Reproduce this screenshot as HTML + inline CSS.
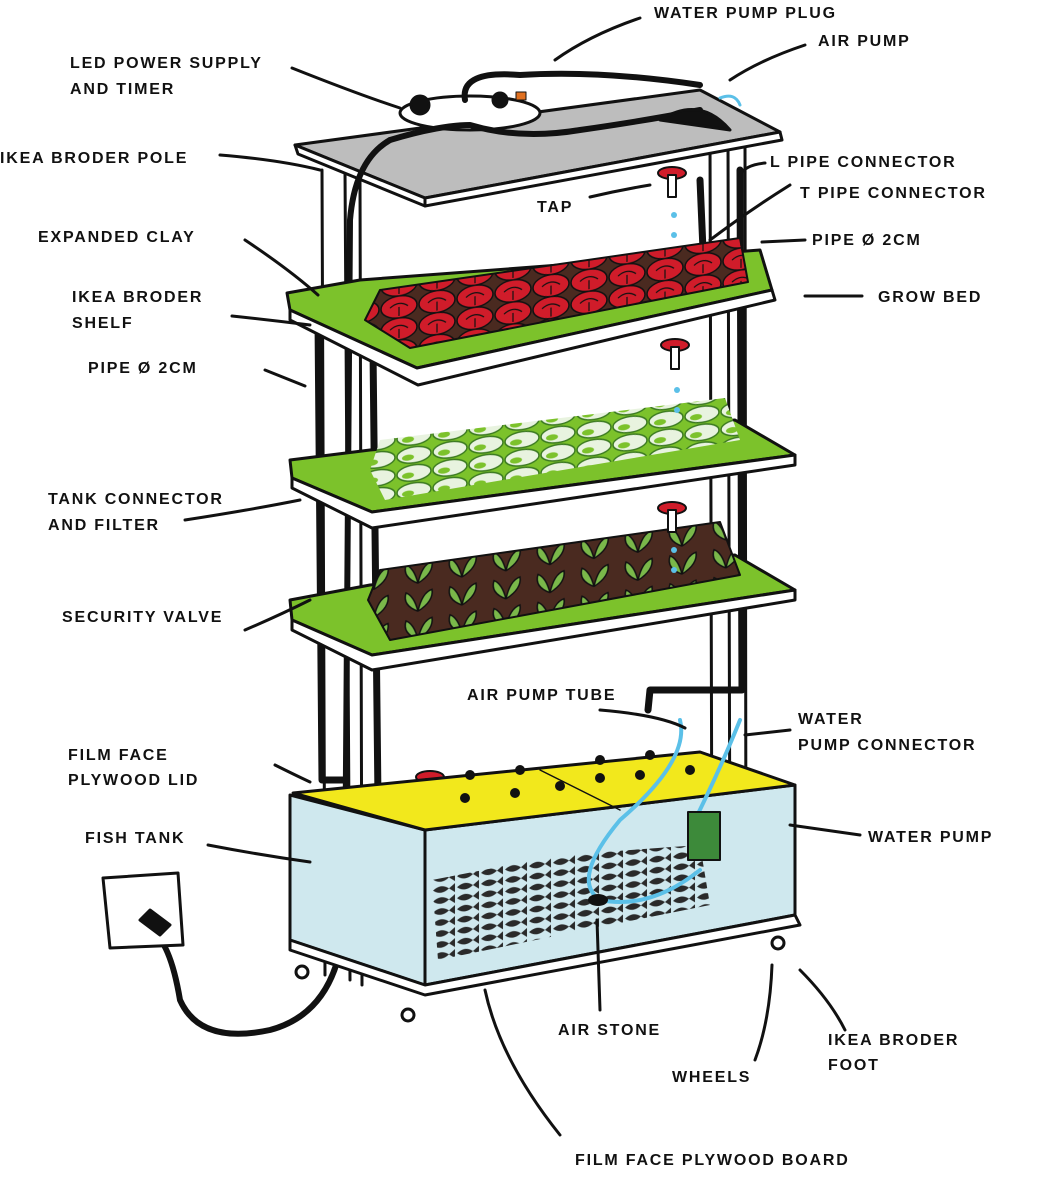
<!DOCTYPE html>
<html><head><meta charset="utf-8"><style>
html,body{margin:0;padding:0;background:#fff;width:1050px;height:1200px;overflow:hidden}
svg text{font-family:"Liberation Sans",sans-serif;font-size:16px;font-weight:bold;letter-spacing:1.8px;fill:#111}
</style></head><body>
<svg width="1050" height="1200" viewBox="0 0 1050 1200" xmlns="http://www.w3.org/2000/svg">
<defs>
<pattern id="red" width="38" height="22" patternUnits="userSpaceOnUse" patternTransform="skewY(-8)">
<rect width="38" height="22" fill="#4a2a20"/>
<ellipse cx="19" cy="11" rx="18" ry="11" fill="#d01c2a" stroke="#111" stroke-width="1.5"/>
<path d="M10 11 Q19 4 28 11 M19 11 L19 20" stroke="#111" stroke-width="1.2" fill="none"/>
</pattern>
<pattern id="white" width="36" height="18" patternUnits="userSpaceOnUse" patternTransform="skewY(-8)">
<rect width="36" height="18" fill="#7cc22b"/>
<ellipse cx="18" cy="9" rx="17" ry="8" fill="#e8f3df" stroke="#3b7a20" stroke-width="1.5"/>
<ellipse cx="12" cy="11" rx="6" ry="3" fill="#7cc22b"/>
</pattern>
<pattern id="green" width="44" height="28" patternUnits="userSpaceOnUse" patternTransform="skewY(-8)">
<rect width="44" height="28" fill="#4a2a20"/>
<path d="M22 26 Q6 18 10 6 Q18 10 22 26 Q26 8 36 6 Q38 18 22 26" fill="#7ab84a" stroke="#111" stroke-width="1.5"/>
</pattern>
<pattern id="fish" width="24" height="11" patternUnits="userSpaceOnUse" patternTransform="skewY(-8)">
<path d="M1 5.5 Q9 -1 17 5.5 L23 1 L23 10 L17 5.5 Q9 12 1 5.5" fill="#2a2a2a"/>
</pattern>
</defs>
<g stroke="#111" stroke-width="3" fill="none" stroke-linecap="round" stroke-linejoin="round">
<path d="M322 170 L325 975 M345 170 L350 980 M360 180 L362 985"/>
<path d="M710 140 L712 910 M728 140 L730 915 M745 140 L746 920"/>
<path d="M318 320 L322 780 L345 780" stroke-width="7"/>
<path d="M373 350 L378 800 L415 800" stroke-width="7"/>
<path d="M700 180 L703 250 M740 170 L742 690 L650 690 L648 710" stroke-width="7"/>
<polygon points="295,145 700,90 780,132 425,198" fill="#bdbdbd"/>
<polygon points="295,145 425,198 425,206 298,154" fill="#fff"/>
<polygon points="425,198 780,132 782,140 425,206" fill="#fff"/>
<ellipse cx="470" cy="113" rx="70" ry="17" fill="#fff"/>
<circle cx="420" cy="105" r="9" fill="#111"/><circle cx="500" cy="100" r="7" fill="#111"/>
<rect x="516" y="92" width="10" height="8" fill="#e07020" stroke-width="1"/>
<path d="M390 140 Q440 125 470 125 Q520 140 580 130 Q650 120 700 110" stroke-width="6"/>
<path d="M465 100 Q460 70 520 75 Q600 70 700 85" stroke-width="6"/>
<path d="M660 120 Q700 95 730 130 Z" fill="#111"/>
<path d="M720 98 Q735 92 740 105" stroke="#5bc0e8"/>
<path d="M390 140 Q355 160 350 220 L345 900 Q345 1010 270 1030 Q200 1045 180 1000 Q170 940 150 930" stroke-width="6"/>
<polygon points="287,293 360,280 760,250 772,290 417,368 290,310" fill="#7cc22b"/>
<polygon points="290,310 417,368 772,290 775,300 418,385 290,320" fill="#fff"/>
<polygon points="365,320 380,290 740,238 748,282 410,348" fill="url(#red)" stroke-width="2"/>
<polygon points="290,460 370,450 735,420 795,455 372,512 292,478" fill="#7cc22b"/>
<polygon points="292,478 372,512 795,455 795,465 372,528 292,488" fill="#fff"/>
<polygon points="370,470 380,440 725,398 740,440 385,500" fill="url(#white)" stroke-width="0"/>
<polygon points="290,600 370,585 735,555 795,590 372,655 292,620" fill="#7cc22b"/>
<polygon points="292,620 372,655 795,590 795,600 372,670 292,630" fill="#fff"/>
<polygon points="368,600 380,570 720,522 740,575 390,640" fill="url(#green)" stroke-width="2"/>
<g fill="#d01c2a" stroke-width="2">
<ellipse cx="672" cy="173" rx="14" ry="6"/><rect x="668" y="175" width="8" height="22" fill="#fff"/>
<ellipse cx="675" cy="345" rx="14" ry="6"/><rect x="671" y="347" width="8" height="22" fill="#fff"/>
<ellipse cx="672" cy="508" rx="14" ry="6"/><rect x="668" y="510" width="8" height="22" fill="#fff"/>
<ellipse cx="430" cy="777" rx="14" ry="6"/><rect x="426" y="779" width="8" height="22" fill="#fff"/>
</g>
<g fill="#5bc0e8" stroke="none"><circle cx="674" cy="215" r="3"/><circle cx="674" cy="235" r="3"/><circle cx="677" cy="390" r="3"/><circle cx="677" cy="410" r="3"/><circle cx="674" cy="550" r="3"/><circle cx="674" cy="570" r="3"/></g>
<polygon points="290,795 425,830 425,985 290,940" fill="#cfe8ee"/>
<polygon points="425,830 795,785 795,915 425,985" fill="#cfe8ee"/>
<polygon points="293,793 700,752 795,785 425,830" fill="#f2e81c"/>
<path d="M540 770 L620 810" stroke-width="1.5"/>
<g fill="#111" stroke="none">
<circle cx="465" cy="798" r="5"/><circle cx="515" cy="793" r="5"/><circle cx="560" cy="786" r="5"/><circle cx="470" cy="775" r="5"/><circle cx="520" cy="770" r="5"/><circle cx="600" cy="778" r="5"/><circle cx="640" cy="775" r="5"/><circle cx="600" cy="760" r="5"/><circle cx="650" cy="755" r="5"/><circle cx="690" cy="770" r="5"/>
</g>
<polygon points="432,880 560,855 700,845 710,905 560,935 438,960" fill="url(#fish)" stroke="none"/>
<path d="M680 720 Q690 760 620 820 Q570 880 600 900 Q650 910 700 870 M740 720 Q720 770 690 830" stroke="#5bc0e8" stroke-width="4"/>
<ellipse cx="598" cy="900" rx="10" ry="6" fill="#111" stroke="none"/>
<rect x="688" y="812" width="32" height="48" fill="#3d8a3a" stroke-width="2"/>
<polygon points="425,985 795,915 800,925 425,995 290,950 290,940" fill="#fff"/>
<circle cx="302" cy="972" r="6"/><circle cx="408" cy="1015" r="6"/><circle cx="778" cy="943" r="6"/>
<path d="M103 878 L178 873 L183 945 L110 948 Z" fill="#fff"/>
<path d="M150 910 l20 15 l-10 10 l-20 -15 z" fill="#111"/>
<path d="M292 68 Q360 95 400 108"/><path d="M640 18 Q590 35 555 60"/><path d="M805 45 Q760 60 730 80"/>
<path d="M220 155 Q280 160 320 170"/><path d="M245 240 Q290 270 318 295"/><path d="M232 316 Q270 320 310 325"/>
<path d="M265 370 Q290 380 305 386"/><path d="M185 520 Q250 510 300 500"/><path d="M245 630 Q280 615 310 600"/>
<path d="M275 765 Q295 775 310 782"/><path d="M208 845 Q260 855 310 862"/>
<path d="M590 197 Q620 190 650 185"/><path d="M765 163 Q745 165 740 175"/><path d="M790 185 Q750 210 710 240"/>
<path d="M762 242 L805 240"/><path d="M805 296 L862 296"/><path d="M600 710 Q660 715 685 728"/>
<path d="M790 730 L745 735"/><path d="M860 835 L790 825"/><path d="M597 920 L600 1010"/>
<path d="M485 990 Q500 1060 560 1135"/><path d="M772 965 Q770 1020 755 1060"/><path d="M800 970 Q830 1000 845 1030"/>
</g>
<g>
<text x="654" y="18">WATER PUMP PLUG</text>
<text x="818" y="46">AIR PUMP</text>
<text x="70" y="68">LED POWER SUPPLY</text>
<text x="70" y="94">AND TIMER</text>
<text x="0" y="163">IKEA BRODER POLE</text>
<text x="770" y="167">L PIPE CONNECTOR</text>
<text x="800" y="198">T PIPE CONNECTOR</text>
<text x="537" y="212">TAP</text>
<text x="38" y="242">EXPANDED CLAY</text>
<text x="812" y="245">PIPE Ø 2CM</text>
<text x="72" y="302">IKEA BRODER</text>
<text x="878" y="302">GROW BED</text>
<text x="72" y="328">SHELF</text>
<text x="88" y="373">PIPE Ø 2CM</text>
<text x="48" y="504">TANK CONNECTOR</text>
<text x="48" y="530">AND FILTER</text>
<text x="62" y="622">SECURITY VALVE</text>
<text x="467" y="700">AIR PUMP TUBE</text>
<text x="798" y="724">WATER</text>
<text x="798" y="750">PUMP CONNECTOR</text>
<text x="68" y="760">FILM FACE</text>
<text x="68" y="785">PLYWOOD LID</text>
<text x="85" y="843">FISH TANK</text>
<text x="868" y="842">WATER PUMP</text>
<text x="558" y="1035">AIR STONE</text>
<text x="828" y="1045">IKEA BRODER</text>
<text x="828" y="1070">FOOT</text>
<text x="672" y="1082">WHEELS</text>
<text x="575" y="1165">FILM FACE PLYWOOD BOARD</text>
</g>
</svg>
</body></html>
